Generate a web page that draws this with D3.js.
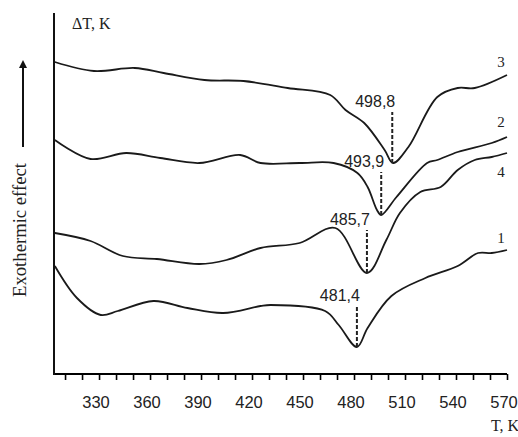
<!DOCTYPE html>
<meta charset="utf-8">
<head>
    <title>DTA curves</title>
    <style>
        body { margin: 0; background: #fff; }
        .tick-label { font-family: "Liberation Sans", Arial, sans-serif; font-size: 16.5px; fill: #222; }
        .peak-label { font-family: "Liberation Sans", Arial, sans-serif; font-size: 16px; fill: #222; }
        .serif { font-family: "Liberation Serif", "Times New Roman", serif; fill: #222; }
    </style>
</head>
<body>
<script src="https://cdn.jsdelivr.net/npm/d3@7"></script>
<script>
    // temperature T, K read off the picture, and signal in arbitrary units (no y ticks in the original)
    var curve3T = [304, 327, 351, 368, 392, 415, 441, 466, 475, 486, 498, 503, 512, 529, 541, 551, 570];
    var curve3V = [312, 303, 306, 301, 294, 293, 286, 279, 264, 251, 224, 211, 227, 277, 286, 286, 299];

    var curve2T = [304, 325, 346, 366, 389, 413, 425, 448, 468, 482, 488, 493.5, 496, 505, 523, 529, 541, 561, 570];
    var curve2V = [234, 215, 221, 216, 211, 219, 211, 211, 211, 201, 187, 164, 159, 177, 211, 214, 222, 231, 237];

    var curve4T = [304, 325, 344, 364, 389, 405, 425, 448, 469, 487.6, 499, 507, 519, 531, 541, 551, 561, 570];
    var curve4V = [141, 133, 118, 115, 110, 114, 126, 131, 146, 101, 134, 161, 182, 187, 204, 214, 217, 221];

    var curve1T = [304, 317, 331, 341, 362, 382, 403, 425, 431, 463, 471, 481.7, 488, 502, 522, 541, 553, 561, 570];
    var curve1V = [108, 76, 59, 63, 73, 66, 61, 68, 69, 63, 49, 27, 46, 78, 96, 108, 121, 121, 124];

    var curveNames = ["3", "2", "4", "1"];

    // peak markers: T of the dashed line, top of the dash, and the printed value
    var peakT = [502.5, 496, 487.6, 481.7];
    var peakTop = [262, 202, 144, 68];
    var peakText = ["498,8", "493,9", "485,7", "481,4"];

    var majorTicks = [330, 360, 390, 420, 450, 480, 510, 540, 570];
    var minorTicks = d3.range(310, 571, 10);

    var margin = {top: 13, right: 11, bottom: 63, left: 54};
    var W = 518, H = 437;
    var width = W - margin.left - margin.right;
    var height = H - margin.top - margin.bottom;

    var svg = d3.select("body").append("svg")
        .attr("width", W)
        .attr("height", H);

    var x = d3.scaleLinear().domain([303.5, 570]).range([margin.left, margin.left + width]);
    var y = d3.scaleLinear().domain([0, 361]).range([margin.top + height, margin.top]);

    var series = [
        {name: curveNames[0], T: curve3T, V: curve3V, ldy: -13},
        {name: curveNames[1], T: curve2T, V: curve2V, ldy: -15},
        {name: curveNames[2], T: curve4T, V: curve4V, ldy: 19},
        {name: curveNames[3], T: curve1T, V: curve1V, ldy: -12}
    ];

    var line = d3.line()
        .x(d => x(d[0]))
        .y(d => y(d[1]))
        .curve(d3.curveCatmullRom.alpha(0.5));

    series.forEach(function(s) {
        var pts = s.T.map((t, i) => [t, s.V[i]]);
        svg.append("path")
            .datum(pts)
            .attr("d", line)
            .style("fill", "none")
            .style("stroke", "#1a1a1a")
            .style("stroke-width", 1.8);

        var last = pts[pts.length - 1];
        svg.append("text")
            .attr("class", "serif")
            .attr("x", x(last[0]) - 6)
            .attr("y", y(last[1]) + s.ldy + 5)
            .attr("text-anchor", "middle")
            .style("font-size", "15px")
            .text(s.name);
    });

    // dashed peak markers, from curve minimum up
    series.forEach(function(s, i) {
        var minV = d3.min(s.V);
        svg.append("line")
            .attr("x1", x(peakT[i])).attr("x2", x(peakT[i]))
            .attr("y1", y(minV)).attr("y2", y(peakTop[i]))
            .style("stroke", "#222")
            .style("stroke-width", 2)
            .style("stroke-dasharray", "4,2");
        svg.append("text")
            .attr("class", "peak-label")
            .attr("x", x(peakT[i]) + 3)
            .attr("y", y(peakTop[i]) - 5)
            .attr("text-anchor", "end")
            .text(peakText[i]);
    });

    // x axis
    var xAxis = svg.append("g")
        .attr("transform", `translate(0, ${margin.top + height})`)
        .call(d3.axisBottom(x).tickValues(minorTicks).tickSize(6).tickFormat(""));
    xAxis.select(".domain").attr("d", `M${margin.left},0H${margin.left + width}`).style("stroke-width", 2);
    xAxis.selectAll(".tick line").style("stroke-width", 1.6);

    svg.selectAll(".xlab")
        .data(majorTicks)
        .enter().append("text")
        .attr("class", "tick-label")
        .attr("x", d => x(d) - 3)
        .attr("y", 408)
        .attr("text-anchor", "middle")
        .text(d => d);

    // y axis, no ticks
    svg.append("line")
        .attr("x1", margin.left).attr("x2", margin.left)
        .attr("y1", margin.top).attr("y2", margin.top + height + 1)
        .style("stroke", "#111")
        .style("stroke-width", 2);

    svg.append("text")
        .attr("class", "serif")
        .attr("x", 72)
        .attr("y", 29)
        .style("font-size", "16px")
        .text("ΔT, K");

    svg.append("text")
        .attr("class", "serif")
        .attr("x", 491)
        .attr("y", 431)
        .style("font-size", "16px")
        .text("T, K");

    svg.append("text")
        .attr("class", "serif")
        .attr("transform", "translate(26,230) rotate(-90)")
        .attr("text-anchor", "middle")
        .attr("textLength", 134)
        .attr("lengthAdjust", "spacingAndGlyphs")
        .style("font-size", "19px")
        .text("Exothermic effect");

    // arrow pointing up
    svg.append("defs").append("marker")
        .attr("id", "arr")
        .attr("viewBox", "0 0 10 10")
        .attr("refX", 5).attr("refY", 5)
        .attr("markerWidth", 4).attr("markerHeight", 5)
        .attr("orient", "auto")
        .append("path")
        .attr("d", "M0,0L10,5L0,10z")
        .style("fill", "#111");

    svg.append("line")
        .attr("x1", 23).attr("x2", 23)
        .attr("y1", 147).attr("y2", 64)
        .style("stroke", "#111")
        .style("stroke-width", 2)
        .attr("marker-end", "url(#arr)");
</script>
</body>
